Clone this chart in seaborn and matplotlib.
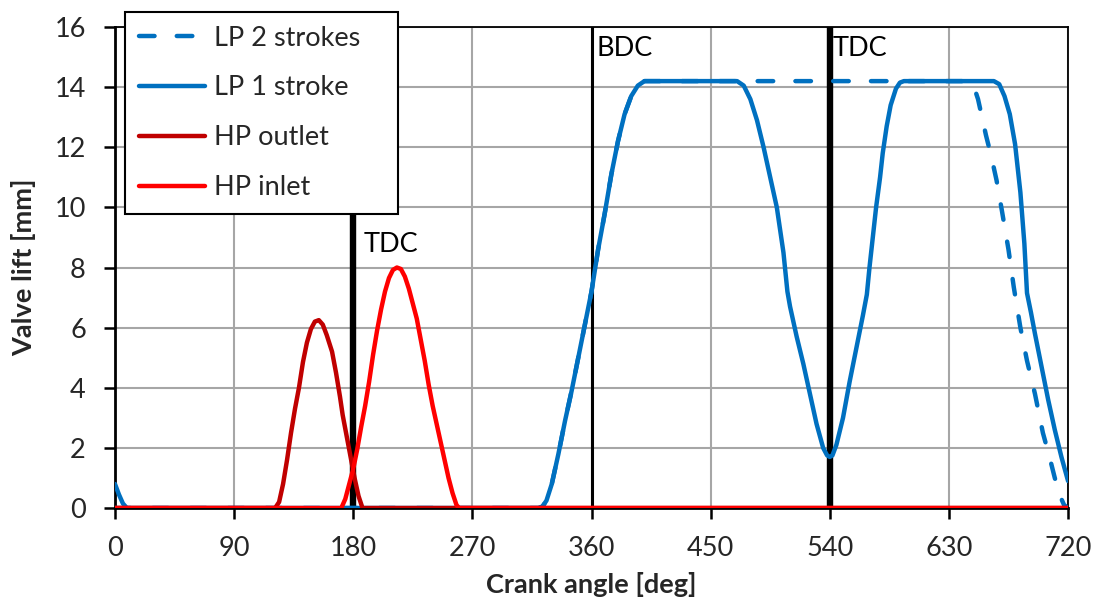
import matplotlib
matplotlib.use("Agg")
import matplotlib.pyplot as plt
import seaborn as sns
import pandas as pd

# Crank angle [deg] and valve lift [mm] for each valve event
lp1_angle = [0, 3, 6, 9, 320, 323, 326, 330, 335, 340, 345, 350, 355, 360, 365, 370,
             375, 380, 385, 390, 395, 400, 470, 475, 480, 485, 490, 495, 500, 505,
             508, 510, 515, 520, 525, 530, 535, 538, 540, 542, 545, 550, 555, 560,
             565, 568, 570, 575, 578, 580, 583, 586, 590, 593, 596, 664, 668, 672,
             676, 680, 684, 687, 689, 692, 695, 700, 705, 710, 715, 720]
lp1_lift = [0.8, 0.45, 0.15, 0.0, 0.0, 0.05, 0.25, 0.8, 1.8, 2.9, 3.9, 5.0, 6.1, 7.2,
            8.6, 9.8, 11.1, 12.2, 13.1, 13.7, 14.05, 14.2, 14.2, 14.05, 13.6, 12.9,
            12.0, 11.0, 10.0, 8.5, 7.2, 6.7, 5.7, 4.8, 3.8, 2.8, 2.0, 1.75, 1.7, 1.75,
            2.1, 3.0, 4.2, 5.3, 6.4, 7.1, 8.0, 10.0, 11.0, 11.8, 12.7, 13.4, 13.95,
            14.15, 14.2, 14.2, 14.1, 13.7, 13.1, 12.1, 10.5, 8.8, 7.15, 6.5, 5.8,
            4.7, 3.6, 2.6, 1.7, 0.9]

lp2_angle = [0, 320, 323, 326, 330, 335, 340, 345, 350, 355, 360, 365, 370, 375, 380,
             385, 390, 395, 400, 646, 649, 652, 655, 658, 662, 666, 670, 675, 679,
             684, 689, 695, 701, 706, 710, 714, 717, 720]
lp2_lift = [0.0, 0.0, 0.05, 0.25, 0.8, 1.8, 2.9, 3.9, 5.0, 6.1, 7.2, 8.6, 9.8, 11.1,
            12.2, 13.1, 13.7, 14.05, 14.2, 14.2, 14.0, 13.6, 13.0, 12.4, 11.7, 10.9,
            9.9, 8.6, 7.35, 6.0, 4.9, 3.8, 2.5, 1.7, 1.0, 0.4, 0.1, 0.0]

hpo_angle = [0, 121, 124, 127, 130, 133, 136, 139, 142, 145, 148, 151, 154, 157, 160,
             164, 167, 170, 172, 175, 178, 181, 184, 187, 720]
hpo_lift = [0.0, 0.0, 0.2, 0.8, 1.6, 2.5, 3.3, 4.0, 4.85, 5.5, 5.95, 6.2, 6.25, 6.1,
            5.75, 5.2, 4.5, 3.7, 3.1, 2.4, 1.7, 1.0, 0.4, 0.0, 0.0]

hpi_angle = [0, 171, 174, 177, 180, 183, 186, 189, 192, 195, 198, 201, 204, 207, 210,
             213, 216, 219, 222, 225, 228, 231, 234, 237, 240, 243, 246, 249, 252,
             255, 258, 260, 720]
hpi_lift = [0.0, 0.0, 0.3, 0.8, 1.3, 1.95, 2.7, 3.4, 4.2, 5.1, 5.9, 6.6, 7.2, 7.65,
            7.92, 8.0, 7.95, 7.7, 7.3, 6.8, 6.3, 5.6, 4.9, 4.1, 3.4, 2.8, 2.2, 1.6,
            1.0, 0.5, 0.1, 0.0, 0.0]

series_names = ["LP 2 strokes", "LP 1 stroke", "HP outlet", "HP inlet"]
series_colors = ["#0070C0", "#0070C0", "#C00000", "#FF0000"]

# Dead-centre markers: angle, label, line width, label position
dc_angles = [180, 360, 540]
dc_labels = ["TDC", "BDC", "TDC"]
dc_widths = [4.6, 2.2, 4.6]
dc_label_x = [188, 364, 542]
dc_label_y = [8.75, 15.3, 15.3]

x_ticks = [0, 90, 180, 270, 360, 450, 540, 630, 720]
y_ticks = [0, 2, 4, 6, 8, 10, 12, 14, 16]

FS = 19.5

sns.set_theme(style="white")
plt.rcParams["font.family"] = ["Lato", "DejaVu Sans"]

frames = [
    pd.DataFrame({"angle": lp2_angle, "lift": lp2_lift}),
    pd.DataFrame({"angle": lp1_angle, "lift": lp1_lift}),
    pd.DataFrame({"angle": hpo_angle, "lift": hpo_lift}),
    pd.DataFrame({"angle": hpi_angle, "lift": hpi_lift}),
]

fig = plt.figure(figsize=(10.97, 6.04), dpi=100)
ax = fig.add_axes([0.1048, 0.1589, 0.8688, 0.7964])

for a, w in zip(dc_angles, dc_widths):
    ax.axvline(a, color="black", lw=w, zorder=2)

handles = []
for i, (df, name, col) in enumerate(zip(frames, series_names, series_colors)):
    ls = (0, (3.5, 5.0)) if i == 0 else "-"
    sns.lineplot(data=df, x="angle", y="lift", ax=ax, color=col, lw=3.2,
                 linestyle=ls, label=name, sort=False, estimator=None,
                 zorder=3 + i, legend=False)
    line = ax.get_lines()[-1]
    line.set_dash_capstyle("round")
    line.set_solid_capstyle("round")
    handles.append(line)

for x, y, t in zip(dc_label_x, dc_label_y, dc_labels):
    ax.text(x, y, t, fontsize=FS, ha="left", va="center", color="black", zorder=10)

ax.set_xlim(0, 720)
ax.set_ylim(0, 16)
ax.set_xticks(x_ticks)
ax.set_yticks(y_ticks)
ax.grid(True, color="#A6A6A6", lw=1.5)
ax.set_axisbelow(True)
for s in ax.spines.values():
    s.set_color("black")
    s.set_linewidth(1.3)
ax.spines["left"].set_linewidth(2.0)
ax.spines["bottom"].set_linewidth(2.0)
ax.tick_params(axis="both", direction="out", length=8, width=1.8, color="black",
               labelsize=FS, bottom=True, left=True)
ax.tick_params(axis="y", pad=13)
ax.tick_params(axis="x", pad=12)
ax.set_xlabel("Crank angle [deg]", fontsize=FS, fontweight="bold", labelpad=8)
ax.set_ylabel("Valve lift [mm]", fontsize=FS, fontweight="bold", labelpad=13)

# Legend box spans a fixed width in figure space, overlapping the top of the axes
leg_x0, leg_top, leg_w = 125 / 1097, 1 - 12 / 604, 273 / 1097
leg = fig.legend(handles=handles, labels=series_names, loc="upper left",
                 bbox_to_anchor=(leg_x0, leg_top - 0.3, leg_w, 0.3), mode="expand",
                 fontsize=FS, frameon=True, fancybox=False, shadow=False,
                 framealpha=1, edgecolor="black", handlelength=2.45,
                 handletextpad=0.35, labelspacing=0.92, borderpad=0.5,
                 borderaxespad=0)
leg.get_frame().set_linewidth(1.5)
leg.set_zorder(20)

fig.savefig("out.png", dpi=100)
